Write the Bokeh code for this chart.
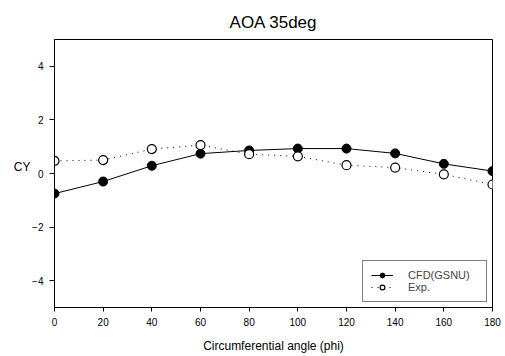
from bokeh.plotting import figure
from bokeh.models import Range1d, Legend, LegendItem, FixedTicker, LinearAxis
from bokeh.embed import file_html
from bokeh.resources import INLINE

phi = [0, 20, 40, 60, 80, 100, 120, 140, 160, 180]
cfd = [-0.75, -0.30, 0.29, 0.74, 0.86, 0.93, 0.93, 0.75, 0.36, 0.09]
exp = [0.47, 0.50, 0.91, 1.06, 0.72, 0.64, 0.31, 0.22, -0.03, -0.41]
x_ticks = [0, 20, 40, 60, 80, 100, 120, 140, 160, 180]
y_ticks = [-4, -2, 0, 2, 4]

FONT = "Liberation Sans"

p = figure(frame_width=438, frame_height=268, output_backend="svg", toolbar_location=None,
           x_range=Range1d(0, 180), y_range=Range1d(-5, 5),
           min_border_left=54, min_border_right=13, min_border_top=39, min_border_bottom=41,
           title="AOA 35deg")
p.title.align = "center"
p.title.text_font = FONT
p.title.text_font_size = "17px"
p.title.text_font_style = "normal"
p.title.text_color = "black"
p.title.standoff = 16

p.xgrid.visible = False
p.ygrid.visible = False
p.outline_line_color = "black"
p.outline_line_width = 1
p.background_fill_color = "white"
p.border_fill_color = "white"

for ax in (p.xaxis[0], p.yaxis[0]):
    ax.minor_tick_line_color = None
    ax.major_tick_in = 0
    ax.major_tick_out = 5
    ax.major_tick_line_color = "black"
    ax.axis_line_color = "black"
    ax.major_label_text_font = FONT
    ax.major_label_text_font_size = "10px"
    ax.major_label_text_color = "black"
p.xaxis.major_tick_out = 4
p.xaxis.major_label_standoff = 6
p.yaxis.major_label_standoff = 6
p.yaxis.axis_label_standoff = 0

p.xaxis.ticker = FixedTicker(ticks=x_ticks)
p.yaxis.ticker = FixedTicker(ticks=y_ticks)
p.xaxis.axis_label = "Circumferential angle (phi)"
p.xaxis.axis_label_text_font = FONT
p.xaxis.axis_label_text_font_size = "12px"
p.xaxis.axis_label_text_font_style = "normal"
p.xaxis.axis_label_text_color = "black"
p.xaxis.axis_label_standoff = 10

# horizontal "CY" label as an extra left axis with a single labelled tick
cy_axis = LinearAxis(ticker=FixedTicker(ticks=[0.25]),
                     major_label_overrides={0.25: "CY"},
                     axis_line_color=None, major_tick_line_color=None,
                     minor_tick_line_color=None, major_label_standoff=-1,
                     major_tick_out=0, major_tick_in=0, axis_label_standoff=0,
                     major_label_text_font=FONT, major_label_text_font_size="12px",
                     major_label_text_color="black")
p.add_layout(cy_axis, "left")

l1 = p.line(phi, cfd, line_color="black", line_width=1)
s1 = p.scatter(phi, cfd, size=9, fill_color="black", line_color="black")
l2 = p.line(phi, exp, line_color="black", line_width=1, line_dash="1 5")
s2 = p.scatter(phi, exp, size=9, fill_color="white", line_color="black", line_width=1.2)

legend = Legend(items=[LegendItem(label="CFD(GSNU)", renderers=[l1, s1]),
                       LegendItem(label="Exp.", renderers=[l2, s2])],
                location="bottom_right", margin=5, padding=8, spacing=0,
                glyph_width=22, glyph_height=12, label_height=12, label_standoff=15,
                label_width=70,
                label_text_font=FONT, label_text_font_size="11px",
                border_line_color="black", border_line_width=1,
                background_fill_alpha=1)
p.add_layout(legend)

open("out.html", "w").write(file_html(p, INLINE))
